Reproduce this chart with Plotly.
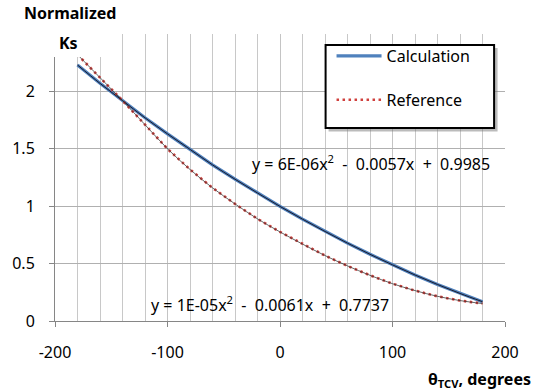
import plotly.graph_objects as go

# ---- data ----
theta = [-180, -160, -140, -120, -100, -80, -60, -40, -20, 0,
         20, 40, 60, 80, 100, 120, 140, 160, 180]
calculation = [2.23, 2.07, 1.92, 1.77, 1.63, 1.495, 1.36, 1.235, 1.115, 0.998,
               0.887, 0.78, 0.678, 0.581, 0.489, 0.401, 0.318, 0.24, 0.168]
reference = [2.32, 2.12, 1.92, 1.71, 1.50, 1.32, 1.16, 1.02, 0.89, 0.776,
             0.67, 0.57, 0.48, 0.398, 0.325, 0.265, 0.215, 0.178, 0.152]
x_ticks = [-200, -100, 0, 100, 200]
x_tick_text = ["-200", "-100", "0", "100", "200"]
y_ticks = [0, 0.5, 1, 1.5, 2, 2.5]
y_tick_text = ["0", "0.5", "1", "1.5", "2", ""]
NB = "\u00a0"
eq_calc = f"y{NB}={NB}6E-06x<sup>2</sup>{NB}{NB}-{NB}{NB}0.0057x{NB}{NB}+{NB}{NB}0.9985"
eq_ref = f"y{NB}={NB}1E-05x<sup>2</sup>{NB}{NB}-{NB}{NB}0.0061x{NB}{NB}+{NB}{NB}0.7737"

W, H = 538, 390
L, R, T, B = 51, 33, 34, 69
PW, PH = W - L - R, H - T - B


def px(x):
    return (x - L) / PW


def py(y):
    return (H - B - y) / PH


FONT = "Noto Sans"

fig = go.Figure()
fig.add_trace(go.Scatter(x=theta, y=calculation, mode="lines", name="Calculation",
                         line=dict(color="#4F81BD", width=3.2), legendgroup="a"))
fig.add_trace(go.Scatter(x=theta, y=reference, mode="lines", name="Reference",
                         line=dict(color="#D0403D", width=2.6, dash="2.5px,3.5px"),
                         legendgroup="b"))
# thin black trend lines
fig.add_trace(go.Scatter(x=theta, y=calculation, mode="lines", showlegend=False,
                         line=dict(color="#1a1a2a", width=1, shape="spline"),
                         hoverinfo="skip"))
fig.add_trace(go.Scatter(x=theta, y=reference, mode="lines", showlegend=False,
                         line=dict(color="#333333", width=0.75, shape="spline"),
                         hoverinfo="skip"))

shapes = [
    # white title box top-left
    dict(type="rect", xref="paper", yref="paper", x0=-0.3, x1=px(115), y0=py(57), y1=1.3,
         fillcolor="white", line=dict(width=0), layer="above"),
    # equation label boxes
    dict(type="rect", xref="paper", yref="paper", x0=px(243), x1=px(494), y0=py(178), y1=py(150),
         fillcolor="white", line=dict(width=0), layer="between"),
    dict(type="rect", xref="paper", yref="paper", x0=px(145), x1=px(390), y0=py(317), y1=py(285),
         fillcolor="white", line=dict(width=0), layer="between"),
    # legend shadow and frame
    dict(type="rect", xref="paper", yref="paper", x0=px(327), x1=px(497.5), y0=py(131.5), y1=py(48),
         fillcolor="rgba(120,120,120,0.5)", line=dict(width=0), layer="above"),
    dict(type="rect", xref="paper", yref="paper", x0=px(324), x1=px(494), y0=py(128), y1=py(45),
         fillcolor="white", line=dict(width=2, color="black"), layer="above"),
]

annotations = [
    dict(text="<b>Normalized</b>", x=px(18), y=py(13), xref="paper", yref="paper",
         xanchor="left", yanchor="middle", showarrow=False,
         font=dict(family=FONT, size=16, color="black")),
    dict(text="<b>Ks</b>", x=px(53), y=py(43), xref="paper", yref="paper",
         xanchor="left", yanchor="middle", showarrow=False,
         font=dict(family=FONT, size=16, color="black")),
    dict(text=eq_calc, x=px(248), y=py(163), xref="paper", yref="paper",
         xanchor="left", yanchor="middle", showarrow=False,
         font=dict(family=FONT, size=16, color="black")),
    dict(text=eq_ref, x=px(146), y=py(304), xref="paper", yref="paper",
         xanchor="left", yanchor="middle", showarrow=False,
         font=dict(family=FONT, size=16, color="black")),
    dict(text="<b>θ<sub>TCV</sub>, degrees</b>", x=px(533), y=py(379), xref="paper", yref="paper",
         xanchor="right", yanchor="middle", showarrow=False,
         font=dict(family=FONT, size=16, color="black")),
]

fig.update_layout(
    width=W, height=H,
    margin=dict(l=L, r=R, t=T, b=B),
    paper_bgcolor="white", plot_bgcolor="white",
    font=dict(family=FONT, size=16, color="black"),
    shapes=shapes, annotations=annotations,
    showlegend=True,
    legend=dict(x=px(330), y=py(39), xanchor="left", yanchor="top",
                bgcolor="rgba(0,0,0,0)", borderwidth=0,
                font=dict(family=FONT, size=16, color="black"),
                traceorder="grouped", tracegroupgap=20, itemwidth=45),
    xaxis=dict(range=[-200, 200], tickvals=x_ticks, ticktext=x_tick_text,
               showgrid=True, gridcolor="#c4c4c4",
               gridwidth=1, showline=True, linecolor="#868686", linewidth=1,
               ticks="outside", ticklen=5, tickcolor="#868686", zeroline=False,
               ticklabelstandoff=12,
               minor=dict(dtick=20, tick0=0, showgrid=True, gridcolor="#c8c8c8", gridwidth=1),
               tickfont=dict(family=FONT, size=16, color="black")),
    yaxis=dict(range=[0, 2.5], tickvals=y_ticks, ticktext=y_tick_text,
               showgrid=True, gridcolor="#b0b0b0", gridwidth=1,
               showline=True, linecolor="#868686", linewidth=1,
               ticks="outside", ticklen=5, tickcolor="#868686", zeroline=False,
               ticklabelstandoff=11,
               tickfont=dict(family=FONT, size=16, color="black")),
)

fig.write_html("out.html")
